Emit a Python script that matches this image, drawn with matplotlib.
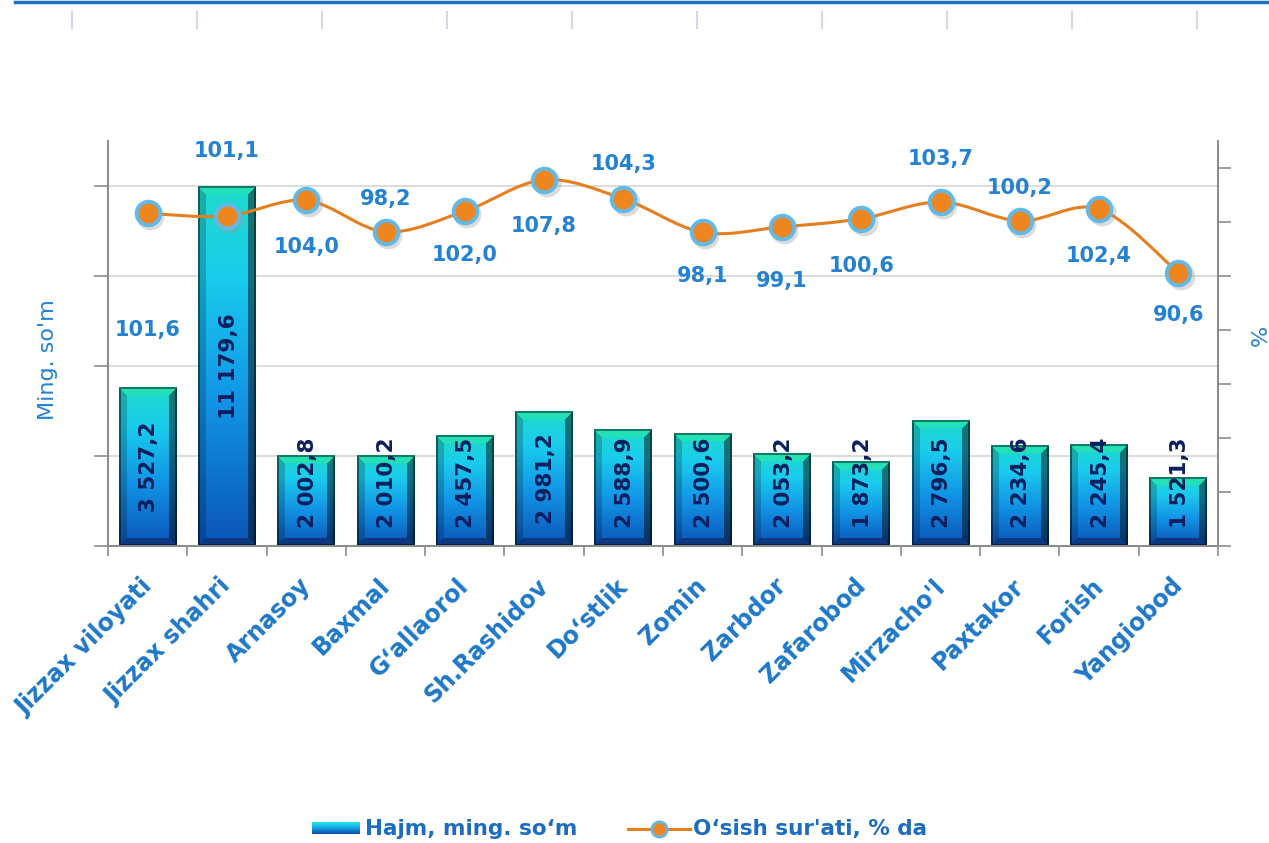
import numpy as np
import matplotlib.pyplot as plt
from matplotlib.path import Path
from matplotlib.patches import PathPatch
from matplotlib.lines import Line2D
from matplotlib import transforms

regions = ["Jizzax viloyati", "Jizzax shahri", "Arnasoy", "Baxmal", "G\u2018allaorol",
           "Sh.Rashidov", "Do\u2018stlik", "Zomin", "Zarbdor", "Zafarobod",
           "Mirzacho'l", "Paxtakor", "Forish", "Yangiobod"]
volume = [3527.2, 11179.6, 2002.8, 2010.2, 2457.5, 2981.2, 2588.9,
          2500.6, 2053.2, 1873.2, 2796.5, 2234.6, 2245.4, 1521.3]
growth = [101.6, 101.1, 104.0, 98.2, 102.0, 107.8, 104.3,
          98.1, 99.1, 100.6, 103.7, 100.2, 102.4, 90.6]

# label offsets for the line labels (pixels, + is downward)
label_dy = [117, -65, 47, -33, 44, 46, -35, 44, 54, 47, -43, -33, 47, 42]

W, H = 1269, 843
BLUE = "#1E78C8"
LBLUE = "#2581D2"
NAVY = "#0C1E5E"
GRAY = "#8C8C8C"

V_MAX, V_CAP = 9000, 8000
P_MIN, P_MAX = 40, 115


def fmt(v):
    return f"{v:,.1f}".replace(",", " ").replace(".", ",")


def px2fig(x, y):
    return x / W, 1 - y / H


def bar_image(h_px, w_px, bevel=8):
    rows, cols = max(int(round(h_px)), 4), max(int(round(w_px)), 4)
    t = np.linspace(0, 1, rows)
    stops = [0.0, 0.25, 0.6, 1.0]
    face_cols = np.array([[0.12, 0.86, 0.80], [0.10, 0.80, 0.93],
                          [0.07, 0.58, 0.90], [0.04, 0.33, 0.72]])
    face = np.stack([np.interp(t, stops, face_cols[:, c]) for c in range(3)], axis=1)
    img = np.repeat(face[:, None, :], cols, axis=1)
    yy, xx = np.mgrid[0:rows, 0:cols]
    d_top, d_bot = yy, rows - 1 - yy
    d_left, d_right = xx, cols - 1 - xx
    b = min(bevel, rows / 3)
    dmin = np.minimum(np.minimum(d_top, d_bot), np.minimum(d_left, d_right))
    in_bevel = dmin < b
    top = in_bevel & (d_top == dmin)
    bot = in_bevel & (d_bot == dmin) & ~top
    left = in_bevel & (d_left == dmin) & ~top & ~bot
    right = in_bevel & (d_right == dmin) & ~top & ~bot & ~left
    img[top] = [0.14, 0.88, 0.72]
    img[left] = img[left] * 0.80
    img[right] = img[right] * 0.55
    img[bot] = [0.05, 0.22, 0.50]
    edge = dmin < 1.5
    img[edge] = img[edge] * 0.55
    return np.clip(img, 0, 1)


fig = plt.figure(figsize=(W / 100, H / 100), dpi=100)
ax = fig.add_axes([108 / W, 1 - 546 / H, 1110 / W, 405 / H])
ax2 = ax.twinx()

x = np.arange(len(regions))
bar_w = 0.73
px_per_x = 1110 / len(regions)
px_per_v = 405 / V_MAX

# bars
for xi, v in zip(x, volume):
    h = min(v, V_CAP)
    img = bar_image(h * px_per_v, bar_w * px_per_x)
    ax.imshow(img, extent=(xi - bar_w / 2, xi + bar_w / 2, 0, h),
              aspect="auto", origin="upper", interpolation="bilinear", zorder=2)
    yc = max(h / 2, 1400)
    ax.text(xi + 0.02, yc, fmt(v), rotation=90, ha="center", va="center",
            color=NAVY, fontsize=15.5, fontweight="bold", zorder=4)

ax.set_xlim(-0.5, len(regions) - 0.5)
ax.set_ylim(0, V_MAX)
ax2.set_ylim(P_MIN, P_MAX)

# grid & axes
ax.set_yticks(np.arange(0, V_CAP + 1, 2000))
ax.set_yticklabels([])
ax.yaxis.grid(True, color="#D6D6D6", linewidth=1.2)
ax.set_axisbelow(True)
ax.tick_params(axis="y", length=10, color=GRAY, width=1.2)
ax.set_xticks(x)
ax.set_xticklabels(regions, rotation=45, ha="right", va="top",
                   rotation_mode="anchor", color=BLUE, fontsize=17, fontweight="bold")
ax.set_xticks(np.arange(-0.5, len(regions)), minor=True)
ax.tick_params(axis="x", which="major", length=0, pad=20)
ax.tick_params(axis="x", which="minor", length=7, color=GRAY, width=1.2)
shift = transforms.ScaledTranslation(-8 / 100, 0, fig.dpi_scale_trans)
for lbl in ax.get_xticklabels():
    lbl.set_transform(lbl.get_transform() + shift)
ax2.set_yticks(np.arange(P_MIN, 111, 10))
ax2.set_yticklabels([])
ax2.tick_params(axis="y", length=9, color=GRAY, width=1.2)
for a in (ax, ax2):
    a.spines["top"].set_visible(False)
    for s in ("left", "right", "bottom"):
        a.spines[s].set_color(GRAY)
        a.spines[s].set_linewidth(1.4)

# smoothed line (Catmull-Rom as Bezier)
pts = np.column_stack([x, growth]).astype(float)
verts = [pts[0]]
codes = [Path.MOVETO]
for i in range(len(pts) - 1):
    p0 = pts[i - 1] if i > 0 else pts[i]
    p1, p2 = pts[i], pts[i + 1]
    p3 = pts[i + 2] if i + 2 < len(pts) else pts[i + 1]
    c1 = p1 + (p2 - p0) / 6
    c2 = p2 - (p3 - p1) / 6
    verts += [c1, c2, p2]
    codes += [Path.CURVE4] * 3
ax2.add_patch(PathPatch(Path(verts, codes), facecolor="none",
                        edgecolor="#E57E1E", linewidth=2.2, zorder=3))

shadow = transforms.offset_copy(ax2.transData, fig=fig, x=2.5, y=-3, units="dots")
ax2.plot(x, growth, "o", ms=20, color="#9A9A9A", alpha=0.35, mew=0,
         transform=shadow, zorder=3)
ax2.plot(x, growth, "o", ms=17, markerfacecolor="#EE8620",
         markeredgecolor="#62B9E6", mew=2.8, linestyle="none", zorder=4)

for xi, g, dy in zip(x, growth, label_dy):
    ax2.annotate(fmt(g), (xi, g), xytext=(0, -dy * 0.72), textcoords="offset points",
                 ha="center", va="center", color=LBLUE, fontsize=15,
                 fontweight="bold", annotation_clip=False, zorder=5)

# axis titles
fig.text(*px2fig(48, 360), "Ming. so'm", rotation=90, ha="center", va="center",
         color=LBLUE, fontsize=16)
fig.text(*px2fig(1261, 335), "%", rotation=90, ha="center", va="center",
         color=LBLUE, fontsize=16)

# legend
lx0, ly0 = px2fig(312, 834)
lax = fig.add_axes([lx0, ly0, 48 / W, 12 / H])
grad = np.linspace(0, 1, 12)[:, None]
leg_img = np.stack([np.interp(grad, [0, 0.4, 1], c) for c in
                    ([0.12, 0.10, 0.05], [0.88, 0.70, 0.30], [0.90, 0.92, 0.70])], axis=2)
lax.imshow(np.repeat(leg_img, 48, axis=1), aspect="auto", origin="upper")
lax.set_axis_off()
fig.text(*px2fig(365, 829), "Hajm, ming. so\u2018m", ha="left", va="center",
         color="#1C6CC0", fontsize=15.5, fontweight="bold")
fig.add_artist(Line2D([628 / W, 690 / W], [1 - 829 / H] * 2, color="#E57E1E",
                      linewidth=2.2, transform=fig.transFigure))
fig.add_artist(Line2D([659 / W], [1 - 829 / H], marker="o", ms=11,
                      markerfacecolor="#EE8620", markeredgecolor="#62B9E6", mew=2,
                      transform=fig.transFigure))
fig.text(*px2fig(693, 829), "O\u2018sish sur'ati, % da", ha="left", va="center",
         color="#1C6CC0", fontsize=15.5, fontweight="bold")

# top strip left from the page
fig.add_artist(Line2D([15 / W, 1], [1 - 1.5 / H] * 2, color="#1B6FC5",
                      linewidth=2.5, transform=fig.transFigure))
for k in range(10):
    xt = (72 + 125 * k) / W
    fig.add_artist(Line2D([xt, xt], [1 - 12 / H, 1 - 28 / H], color="#D2DAEA",
                          linewidth=1.5, transform=fig.transFigure))

fig.savefig("out.png", dpi=100)
